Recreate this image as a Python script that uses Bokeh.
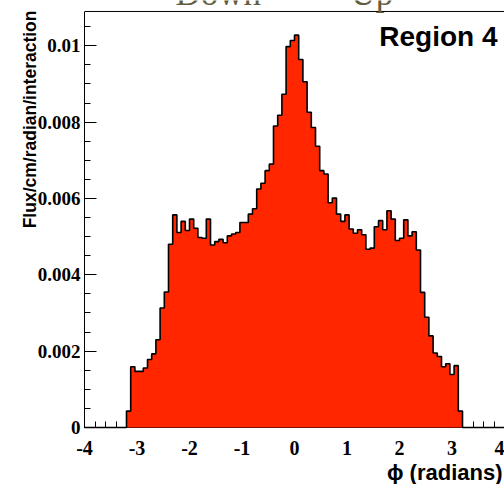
import numpy as np
from bokeh.plotting import figure
from bokeh.models import FixedTicker, CustomJSTickFormatter, Label, Range1d, Title, Span
from bokeh.embed import file_html
from bokeh.resources import INLINE

# Flux per bin (histogram of phi, 80 non-empty bins of 0.08 rad from -3.2 to 3.2)
flux = [
    0.00043, 0.00159, 0.00147, 0.00147, 0.00156, 0.00178, 0.00193, 0.00230, 0.00313, 0.00355,
    0.00480, 0.00557, 0.00511, 0.00540, 0.00516, 0.00546, 0.00522, 0.00498, 0.00496, 0.00546,
    0.00478, 0.00487, 0.00493, 0.00484, 0.00502, 0.00507, 0.00511, 0.00537, 0.00537, 0.00559,
    0.00573, 0.00625, 0.00640, 0.00673, 0.00690, 0.00790, 0.00818, 0.00873, 0.00998, 0.01014,
    0.01028, 0.00964, 0.00906, 0.00826, 0.00786, 0.00737, 0.00673, 0.00664, 0.00589, 0.00601,
    0.00559, 0.00540, 0.00557, 0.00520, 0.00509, 0.00518, 0.00505, 0.00467, 0.00470, 0.00526,
    0.00542, 0.00518, 0.00568, 0.00546, 0.00490, 0.00496, 0.00544, 0.00502, 0.00513, 0.00465,
    0.00354, 0.00289, 0.00240, 0.00195, 0.00186, 0.00159, 0.00167, 0.00139, 0.00162, 0.00043,
]
phi_range = [-3.2, 3.2]
x_ticks = [-4, -3, -2, -1, 0, 1, 2, 3, 4]
x_tick_labels = ["-4", "-3", "-2", "-1", "0", "1", "2", "3", "4"]
y_ticks = [0, 0.002, 0.004, 0.006, 0.008, 0.01]
y_tick_labels = ["0", "0.002", "0.004", "0.006", "0.008", "0.01"]
y_axis_top = 0.0109
title_words = ["Down", "Up"]
region_label = "Region 4"
y_title = "Flux/cm/radian/interaction"
x_title = "\u03d5 (radians)"

edges = np.linspace(phi_range[0], phi_range[1], len(flux) + 1)
left = edges[:-1]
right = edges[1:]

# plot box: 84..504 px horizontally, 11..428 px vertically; the drawing area runs up to the
# window top so that the half-hidden heading above the box can be shown
box_top_px, box_bottom_px = 11, 428
y_view_top = y_axis_top * box_bottom_px / (box_bottom_px - box_top_px)

p = figure(width=504, height=484, output_backend="svg", toolbar_location=None,
           x_range=Range1d(-4, 4), y_range=Range1d(0, y_view_top),
           min_border_left=84, min_border_right=0, min_border_top=0, min_border_bottom=56)
p.background_fill_color = "white"
p.border_fill_color = "white"
p.outline_line_color = None
p.xgrid.visible = False
p.ygrid.visible = False

# step outline of the histogram (built from the bin edges and flux values)
xs = [edges[0]]
ys = [0.0]
for l, r, v in zip(left, right, flux):
    xs += [l, r]
    ys += [v, v]
xs += [edges[-1]]
ys += [0.0]

fill = p.patch(xs, ys, fill_color="#ff2600", line_color=None)
fill.level = "overlay"
outline = p.line([-4.0] + xs + [4.0], [0.0] + ys + [0.0], line_color="black", line_width=1.6)
outline.level = "overlay"

p.add_layout(Span(location=y_axis_top, dimension="width", line_color="black", line_width=1))

for ax in (p.xaxis[0], p.yaxis[0]):
    ax.major_tick_in = 12
    ax.major_tick_out = 0
    ax.minor_tick_in = 6
    ax.minor_tick_out = 0
    ax.axis_line_color = "black"
    ax.major_tick_line_color = "black"
    ax.minor_tick_line_color = "black"
    ax.major_label_text_font = "Liberation Serif"
    ax.major_label_text_font_style = "bold"
    ax.major_label_text_color = "black"

label_code = ("let i = -1; for (let k = 0; k < tv.length; k++) { if (Math.abs(tv[k] - tick) < 1e-9) i = k; }"
              " return i >= 0 ? tl[i] : String(tick);")

p.xaxis.ticker = FixedTicker(ticks=x_ticks, minor_ticks=[t / 5 for t in range(-20, 21)])
p.xaxis.major_label_text_font_size = "20px"
p.xaxis.major_label_standoff = 13
p.xaxis.formatter = CustomJSTickFormatter(args=dict(tv=x_ticks, tl=x_tick_labels), code=label_code)

p.yaxis.bounds = (0, y_axis_top)
p.yaxis.ticker = FixedTicker(ticks=y_ticks, minor_ticks=[t * 0.0005 for t in range(22)])
p.yaxis.major_label_text_font_size = "19px"
p.yaxis.major_label_standoff = 4
p.yaxis.formatter = CustomJSTickFormatter(args=dict(tv=y_ticks, tl=y_tick_labels), code=label_code)

ytitle_kw = dict(text=y_title, align="right", text_font="Liberation Sans",
                 text_font_style="bold", text_font_size="17.5px", text_color="black",
                 offset=box_top_px - 1)
try:
    ytitle = Title(standoff=-11, **ytitle_kw)
except Exception:
    ytitle = Title(standoff=0, **ytitle_kw)
p.add_layout(ytitle, "left")
p.add_layout(Title(text=x_title, align="right", text_font="Liberation Sans",
                   text_font_style="bold", text_font_size="22px", text_color="black",
                   standoff=0, offset=2), "below")

# screen units measured from the drawing area's bottom-left (84, 428)
fb = box_bottom_px
fl = 84
for word, xpos in zip(title_words, [175, 350]):
    p.add_layout(Label(x=xpos - fl, y=fb + 6.5, x_units="screen", y_units="screen", text=word,
                       text_font="Liberation Serif", text_font_size="35px", text_color="#625d3e",
                       text_baseline="middle", text_align="left"))
p.add_layout(Label(x=497 - fl, y=fb - 37, x_units="screen", y_units="screen", text=region_label,
                   text_font="Liberation Sans", text_font_style="bold", text_font_size="28px",
                   text_color="black", text_baseline="middle", text_align="right"))

open("out.html", "w").write(file_html(p, INLINE))
